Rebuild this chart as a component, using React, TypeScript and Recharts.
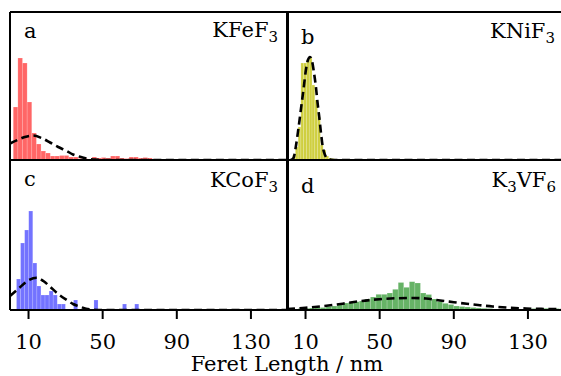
import React from 'react';
import { ComposedChart, Bar, Line, XAxis, YAxis, ReferenceLine } from 'recharts';

// ---- shared axis ----
const X_TICKS = [10, 50, 90, 130];
const X_DOMAIN: [number, number] = [0, 150];

// ---- a: KFeF3 (bin width 2.5 nm) ----
const kfefCenters = [3, 5.5, 8, 10.5, 13, 15.5, 18, 20.5, 23, 25.5, 28, 30.5, 33, 35.5, 38, 40.5, 43, 45.5, 48, 50.5, 53, 55.5, 58, 60.5, 63, 65.5, 68, 70.5, 73, 75.5];
const kfefCounts = [53, 102, 97, 58, 27, 16, 9, 7, 4, 4, 4.5, 4.5, 3, 3, 1.5, 1.5, 1, 3, 2, 2.5, 2, 4, 4, 2, 1.5, 3, 3, 2, 2.5, 2];
const kfefFitX = [0, 4, 8, 12.4, 17, 21.6, 26, 30.6, 34, 37.8, 42, 46, 52, 150];
const kfefFitY = [16.5, 20, 23, 24.5, 22, 17.5, 13, 9, 5.5, 3.2, 1.3, 0.4, 0, 0];

// ---- b: KNiF3 (bin width 1.5 nm) ----
const knifCenters = [3.75, 5.25, 6.75, 8.25, 9.75, 11.25, 12.75, 14.25, 15.75, 17.25, 18.75, 20.25, 21.75, 23.25, 24.75, 26.25];
const knifCounts = [5, 13, 33, 97, 97, 100, 102, 75, 60, 43, 15, 10, 4, 2, 1.5, 1];
const knifFitX = [2, 3.5, 4.9, 6.2, 7.6, 9, 10.2, 11.3, 12.4, 13.5, 14.5, 15.6, 16.5, 17.4, 18.4, 19.3, 20.3, 21.5, 23, 25, 150];
const knifFitY = [0, 2, 15, 32, 52, 72, 90, 100, 103, 99, 88, 73, 57, 43, 26, 13, 6, 2, 0.5, 0, 0];

// ---- c: KCoF3 (bin width 2.2 nm) ----
const kcofCenters = [4.6, 6.8, 9.0, 11.2, 13.4, 15.6, 17.8, 20.0, 22.2, 24.4, 26.6, 28.8, 31.0, 33.2, 35.4, 37.6, 39.8, 42.0, 44.2, 46.4, 48.6, 50.8, 53.0, 55.2, 57.4, 59.6, 61.8, 64.0, 66.2, 68.4];
const kcofCounts = [31, 67, 80, 99, 47, 24, 15, 15, 19, 15, 6, 6, 0, 0, 10, 0, 0, 0, 0, 10, 0, 0, 0, 0, 0, 0, 6, 0, 0, 6];
const kcofFitX = [0, 5, 9, 14.4, 18, 21.6, 26, 30.6, 34, 37.8, 41, 45, 50, 150];
const kcofFitY = [14, 22, 28.5, 32.3, 29, 23.3, 16, 10, 6, 3.3, 1.2, 0.3, 0, 0];

// ---- d: K3VF6 (bin width 3 nm) ----
const kvfCenters = [1.5, 4.5, 7.5, 10.5, 13.5, 16.5, 19.5, 22.5, 25.5, 28.5, 31.5, 34.5, 37.5, 40.5, 43.5, 46.5, 49.5, 52.5, 55.5, 58.5, 61.5, 64.5, 67.5, 70.5, 73.5, 76.5, 79.5, 82.5, 85.5, 88.5, 91.5, 94.5, 97.5, 100.5, 103.5, 106.5, 109.5, 112.5, 115.5, 118.5, 121.5, 124.5, 127.5, 130.5, 133.5, 136.5, 139.5, 142.5, 145.5, 148.5];
const kvfCounts = [0.5, 1, 1.5, 1.7, 2, 2.5, 2.5, 3.5, 4, 5.5, 7, 7.5, 8.3, 9, 11, 13, 15.7, 15.7, 17, 20.7, 27.5, 22.7, 28.3, 27, 17, 15.5, 11, 8.5, 6.7, 5.5, 4, 3.5, 3, 2.5, 2, 1.7, 1.5, 1, 0.7, 0.5, 0.5, 0.3, 0.5, 0.8, 1.5, 1.5, 1.7, 1.5, 1.5, 1];
const kvfFitX = [0, 10, 20, 30, 40, 50, 60, 68, 75, 82.6, 90, 97, 104, 111, 118.6, 129, 140, 150];
const kvfFitY = [1, 2.2, 4, 6.3, 9, 10.8, 11.8, 12, 11.5, 9.5, 7.8, 6.2, 4.8, 3.5, 2.5, 1.5, 1, 0.7];

const FONT = 'DejaVu Serif';
const FS = 21;

type PanelProps = {
  centers: number[];
  counts: number[];
  fitX: number[];
  fitY: number[];
  binWidth: number;
  color: string;
  opacity: number;
  left: number;
  top: number;
  plotW: number;
  plotH: number;
  yMax: number;
  showAxis: boolean;
};

function Panel(p: PanelProps) {
  const bars = p.centers.map((v, i) => ({ v, h: p.counts[i] }));
  const fit = p.fitX.map((v, i) => ({ v, h: p.fitY[i] }));
  const M = 2;
  const axisH = p.showAxis ? 60 : 0;
  const binPx = (p.binWidth * p.plotW) / (X_DOMAIN[1] - X_DOMAIN[0]);
  const border = { stroke: '#000', strokeWidth: 2 };
  const shape = (props: any) => {
    const { x, y, width, height } = props;
    if (!height || height <= 0) return <g />;
    const cx = x + width / 2;
    return (
      <rect
        x={cx - binPx / 2}
        y={y}
        width={binPx}
        height={height}
        fill={p.color}
        fillOpacity={p.opacity}
        stroke="#ffffff"
        strokeOpacity={0.3}
        strokeWidth={0.6}
      />
    );
  };
  return (
    <div style={{ position: 'absolute', left: p.left - M, top: p.top - M }}>
      <ComposedChart
        width={p.plotW + 2 * M}
        height={p.plotH + 2 * M + axisH}
        data={bars}
        margin={{ top: M, right: M, left: M, bottom: M }}
      >
        <XAxis
          dataKey="v"
          type="number"
          domain={X_DOMAIN}
          ticks={X_TICKS}
          allowDataOverflow
          hide={!p.showAxis}
          height={axisH}
          axisLine={{ stroke: '#000', strokeWidth: 2 }}
          tickLine={{ stroke: '#000', strokeWidth: 2 }}
          tickSize={9}
          tickMargin={15}
          tick={{ fill: '#000', fontSize: FS, fontFamily: FONT }}
        />
        <YAxis type="number" domain={[0, p.yMax]} hide allowDataOverflow />
        <Bar dataKey="h" fill={p.color} shape={shape} isAnimationActive={false} />
        <Line
          data={fit}
          dataKey="h"
          type="monotone"
          stroke="#000"
          strokeWidth={2.6}
          strokeDasharray="8 4.5"
          dot={false}
          activeDot={false}
          isAnimationActive={false}
        />
        <ReferenceLine x={X_DOMAIN[0]} {...border} />
        <ReferenceLine x={X_DOMAIN[1]} {...border} />
        <ReferenceLine y={p.yMax} {...border} />
        {!p.showAxis && <ReferenceLine y={0} {...border} />}
      </ComposedChart>
    </div>
  );
}

const textStyle: React.CSSProperties = { fontFamily: FONT, fontSize: FS, fill: '#000' };

export default function App() {
  return (
    <div style={{ position: 'absolute', left: 0, top: 0, width: 561, height: 376, overflow: 'hidden', background: '#fff' }}>
      <Panel centers={kfefCenters} counts={kfefCounts} fitX={kfefFitX} fitY={kfefFitY} binWidth={2.5}
        color="#ff0000" opacity={0.6} left={10} top={12} plotW={278} plotH={148} yMax={148} showAxis={false} />
      <Panel centers={knifCenters} counts={knifCounts} fitX={knifFitX} fitY={knifFitY} binWidth={1.5}
        color="#bfbf00" opacity={0.75} left={287} top={12} plotW={278} plotH={148} yMax={148} showAxis={false} />
      <Panel centers={kcofCenters} counts={kcofCounts} fitX={kcofFitX} fitY={kcofFitY} binWidth={2.2}
        color="#0000ff" opacity={0.55} left={10} top={160} plotW={278} plotH={150} yMax={150} showAxis={true} />
      <Panel centers={kvfCenters} counts={kvfCounts} fitX={kvfFitX} fitY={kvfFitY} binWidth={3}
        color="#008000" opacity={0.6} left={287} top={160} plotW={278} plotH={150} yMax={150} showAxis={true} />
      <svg width={561} height={376} style={{ position: 'absolute', left: 0, top: 0, pointerEvents: 'none' }}>
        <text x={24} y={38} style={textStyle}>a</text>
        <text x={278} y={37} textAnchor="end" style={textStyle}>KFeF<tspan dy={5} fontSize={15}>3</tspan></text>
        <text x={301} y={44} style={textStyle}>b</text>
        <text x={555} y={38} textAnchor="end" style={textStyle}>KNiF<tspan dy={5} fontSize={15}>3</tspan></text>
        <text x={24} y={186} style={textStyle}>c</text>
        <text x={278} y={187} textAnchor="end" style={textStyle}>KCoF<tspan dy={5} fontSize={15}>3</tspan></text>
        <text x={301} y={193} style={textStyle}>d</text>
        <text x={556} y={187} textAnchor="end" style={textStyle}>K<tspan dy={5} fontSize={15}>3</tspan><tspan dy={-5}>VF</tspan><tspan dy={5} fontSize={15}>6</tspan></text>
        <text x={287} y={371} textAnchor="middle" style={textStyle}>Feret Length / nm</text>
      </svg>
    </div>
  );
}
